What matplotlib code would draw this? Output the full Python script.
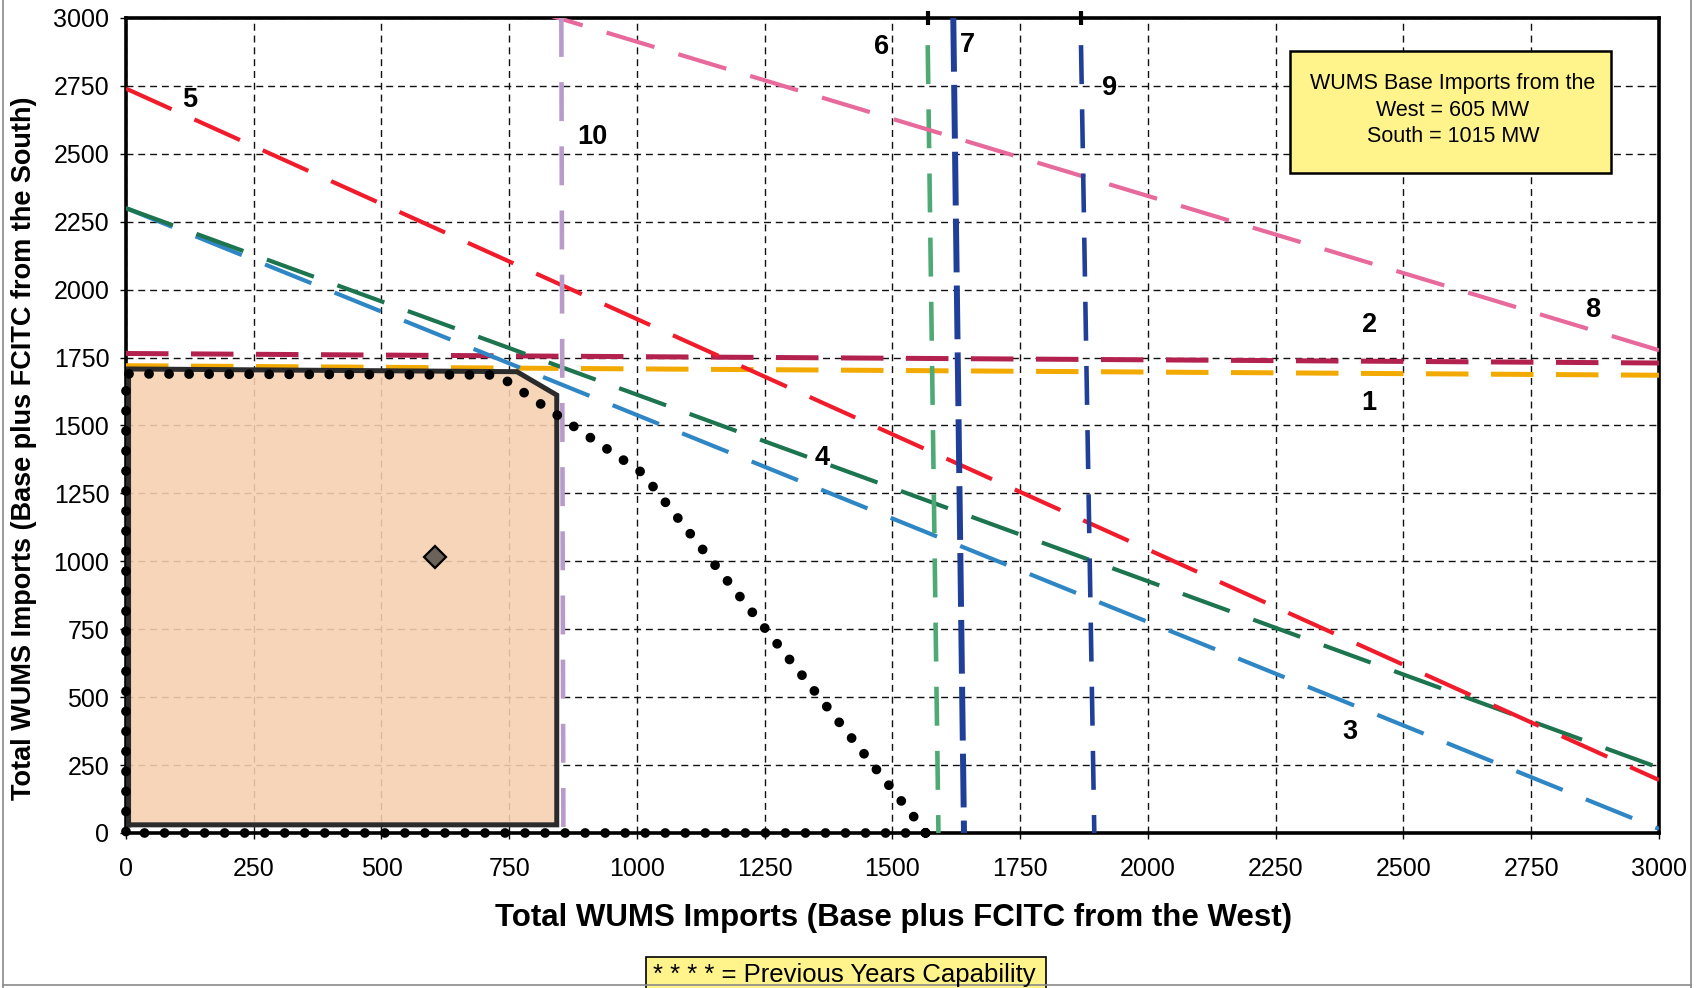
import matplotlib
matplotlib.use('Agg')
import matplotlib.pyplot as plt
from matplotlib.patches import Polygon, Rectangle
from matplotlib.lines import Line2D

plt.rcParams['font.family'] = ['Liberation Sans', 'DejaVu Sans']

# constraint lines, end points in MW (west import, south import)
line_ids = ['1', '2', '3', '4', '5', '6', '7', '8', '9', '10']
line_x = [[0, 3000], [0, 3000], [0, 3000], [0, 3000], [0, 3000],
          [1569, 1590], [1619, 1640], [800, 3000], [1869, 1895], [852, 856]]
line_y = [[1720, 1685], [1765, 1730], [2300, 15], [2300, 240], [2740, 195],
          [2900, 0], [3000, 0], [3026, 1777], [2900, 0], [3000, 0]]

# where the line numbers are written
label_x = [2432, 2434, 2395, 1363, 124, 1479, 1646, 2870, 1924, 912]
label_y = [1581, 1870, 373, 1379, 2698, 2894, 2900, 1925, 2741, 2563]

# previous years capability (dotted boundary)
prev_x = [1565, 0, 0, 728, 1010, 1550, 1565]
prev_y = [0, 0, 1690, 1686, 1326, 40, 0]

# current capability region
region_x = [5, 5, 765, 843, 843]
region_y = [30, 1708, 1698, 1612, 30]

base_west = 605
base_south = 1015

ticks = list(range(0, 3001, 250))

# styles: color, linewidth, dash pattern
styles = {
    '1': ('#F2A900', 3.6, (8.5, 4.5)),
    '2': ('#B3224F', 3.6, (8.5, 4.5)),
    '3': ('#2F86C4', 3.0, (12, 6)),
    '4': ('#1D7550', 3.0, (12, 6)),
    '5': ('#F01C2C', 3.0, (12, 6)),
    '6': ('#4DAA74', 3.3, (8.5, 5.5)),
    '7': ('#203F98', 4.3, (9, 2.2)),
    '8': ('#E8699B', 3.0, (12, 6)),
    '9': ('#203F98', 3.3, (8.5, 5.5)),
    '10': ('#B89BCB', 3.3, (8.5, 5.5)),
}

fig = plt.figure(figsize=(16.98, 9.88), dpi=100)
ax = fig.add_axes([0.0742, 0.1569, 0.9028, 0.8249])

ax.set_xlim(0, 3000)
ax.set_ylim(0, 3000)
ax.set_xticks(ticks)
ax.set_yticks(ticks)
ax.grid(True, color='#111111', linestyle=(0, (5, 3.5)), linewidth=1.0, zorder=1)
ax.set_axisbelow(True)
ax.tick_params(direction='out', length=4, width=1, labelsize=18, colors='black')
ax.tick_params(axis='x', pad=13)
ax.tick_params(axis='y', pad=8)
for sp in ax.spines.values():
    sp.set_linewidth(2.6)
    sp.set_color('black')

# shaded region of current capability
ax.add_patch(Polygon(list(zip(region_x, region_y)), closed=True,
                     facecolor='#F6D0B0', edgecolor='none', alpha=0.88, zorder=2))

for lid, xs, ys in zip(line_ids, line_x, line_y):
    c, lw, dash = styles[lid]
    ax.plot(xs, ys, color=c, lw=lw, linestyle=(0, dash), zorder=4,
            solid_capstyle='butt', dash_capstyle='butt')

ax.plot(region_x + [region_x[0]], region_y + [region_y[0]], color='#2b2b2b', lw=3.6,
        solid_joinstyle='miter', zorder=5)
ax.plot(prev_x, prev_y, color='black', lw=7, linestyle=(0, (0.01, 2.05)),
        dash_capstyle='round', zorder=6, clip_on=False)

# small markers at the top of lines 6 and 9
ax.plot([line_x[5][0], line_x[8][0]], [3000, 3000], linestyle='none', marker='|',
        markersize=10, markeredgewidth=3, color='black', clip_on=False, zorder=7)

ax.plot([base_west], [base_south], marker='D', markersize=11, markerfacecolor='#6b625a',
        markeredgecolor='black', markeredgewidth=1.6, zorder=7)

for t, lx, ly in zip(line_ids, label_x, label_y):
    ax.text(lx, ly, t, fontsize=19.5, fontweight='bold', ha='center', va='center', zorder=8)

# info box
ax.add_patch(Rectangle((0.759, 0.8098), 0.2094, 0.1497, transform=ax.transAxes,
                       facecolor='#FFF38C', edgecolor='black', lw=1.8, zorder=8))
ax.text(0.8655, 0.887, 'WUMS Base Imports from the\nWest = 605 MW\nSouth = 1015 MW',
        transform=ax.transAxes, ha='center', va='center', fontsize=15.5,
        linespacing=1.33, zorder=9)

fig.text(0.526, 1 - 918 / 988, 'Total WUMS Imports (Base plus FCITC from the West)',
         ha='center', va='center', fontsize=22.5, fontweight='bold')
fig.text(0.0141, 0.5466, 'Total WUMS Imports (Base plus FCITC from the South)',
         ha='center', va='center', fontsize=19.5, fontweight='bold', rotation=90)

# note box at the bottom
fig.add_artist(Rectangle((0.3803, -0.01), 0.2355, 0.0414, transform=fig.transFigure,
                         facecolor='#FFF38C', edgecolor='black', lw=1.2))
fig.text(0.4975, 1 - 975 / 988, '* * * * = Previous Years Capability',
         ha='center', va='center', fontsize=18.5)

# page frame
for xs, ys in [([0.002, 0.002], [0.0, 1.0]), ([0.996, 0.996], [0.0, 1.0]),
               ([0.002, 0.996], [0.003, 0.003])]:
    fig.add_artist(Line2D(xs, ys, color='#8a8a8a', lw=1.2, transform=fig.transFigure))

fig.savefig('out.png', dpi=100)
